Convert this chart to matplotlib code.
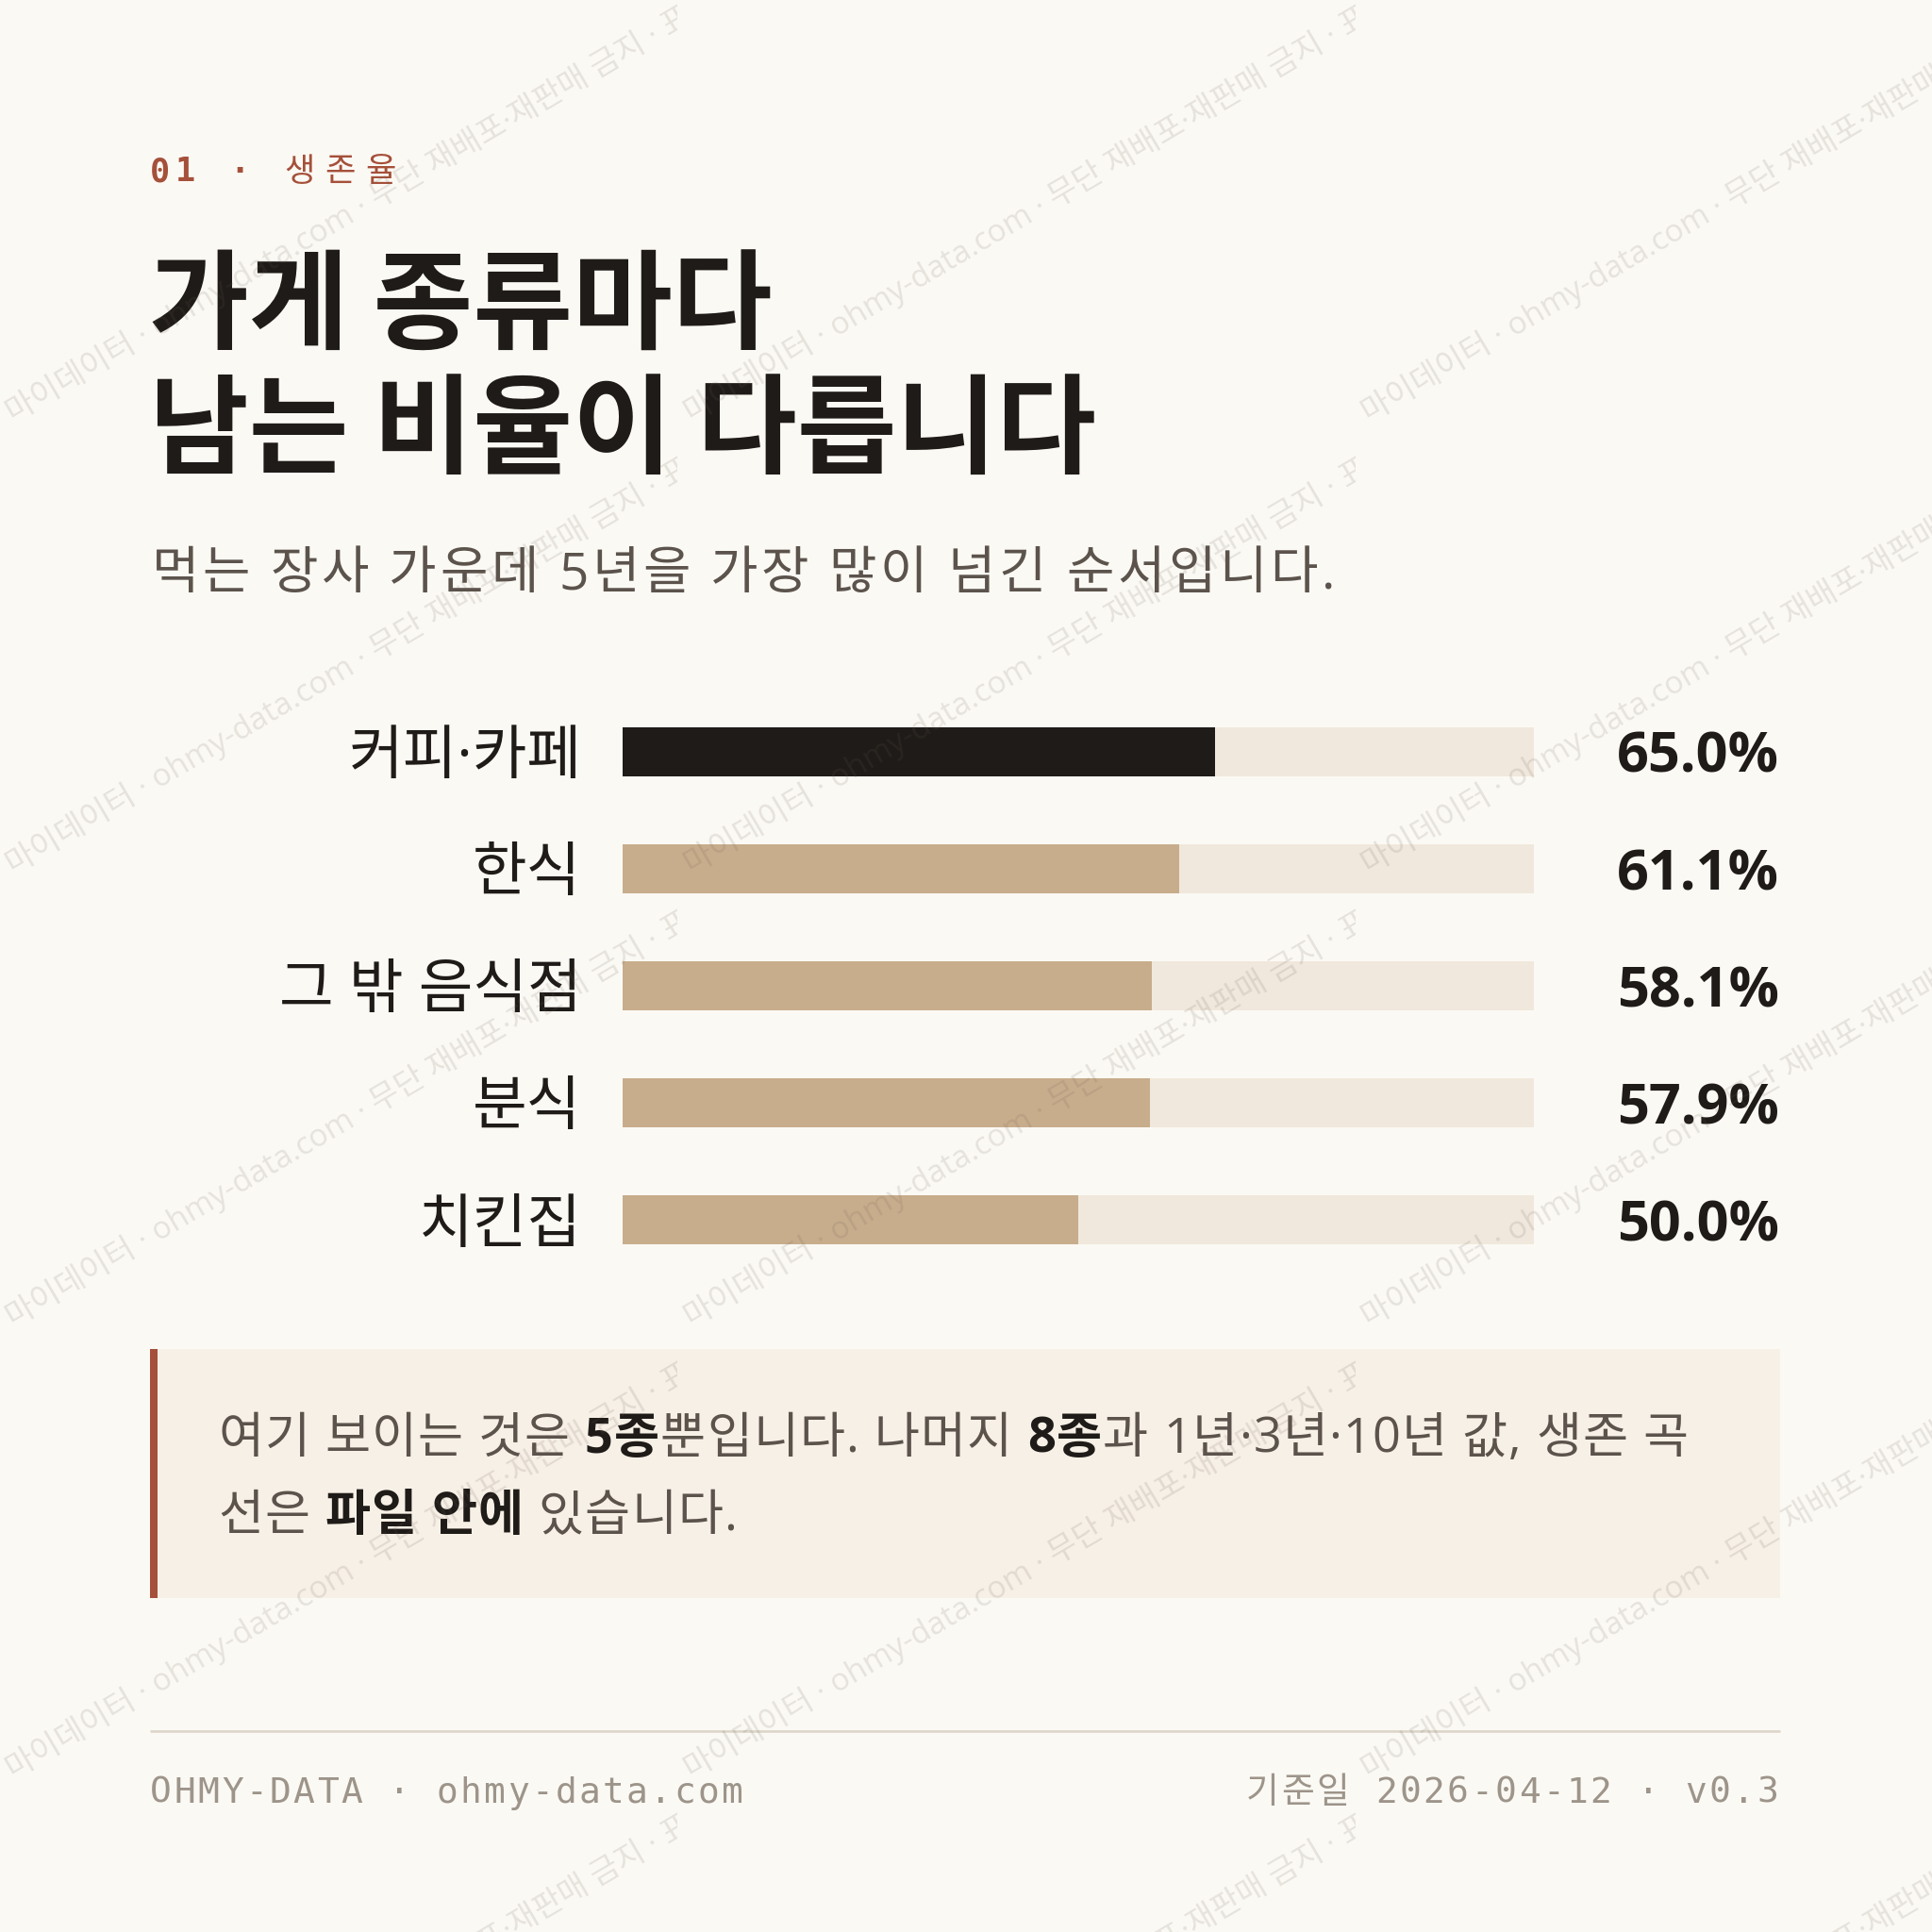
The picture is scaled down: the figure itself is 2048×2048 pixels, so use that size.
import matplotlib
matplotlib.use('Agg')
import matplotlib.pyplot as plt
import numpy as np
from matplotlib.patches import Rectangle
from matplotlib.transforms import Bbox, TransformedBbox, offset_copy

# ---- data ----
categories = ['커피·카페', '한식', '그 밖 음식점', '분식', '치킨집']
survival_5y = [65.0, 61.1, 58.1, 57.9, 50.0]
highlight = '커피·카페'

kicker_num = '01'
kicker_txt = '생존율'
title_lines = ['가게 종류마다', '남는 비율이 다릅니다']
subtitle = '먹는 장사 가운데 5년을 가장 많이 넘긴 순서입니다.'
# (text, bold, space after)
note_line1 = [('여기 보이는 것은', False, True), ('5종', True, False),
              ('뿐입니다. 나머지', False, True), ('8종', True, False),
              ('과 1년·3년·10년 값, 생존 곡', False, False)]
note_line2 = [('선은', False, True), ('파일 안에', True, True), ('있습니다.', False, False)]
footer_left = 'OHMY-DATA · ohmy-data.com'
footer_right = '기준일 2026-04-12 · v0.3'
watermark = '마이데이터 · ohmy-data.com · 무단 재배포·재판매 금지 · 표본 데이터'

# ---- style ----
BG = '#FBF9F4'
INK = '#1F1B18'
GREY = '#5B534C'
TAN = '#C8AD8C'
TRACK = '#F0E8DC'
RUST = '#A5503A'
NOTE_BG = '#F7F0E6'
FOOT = '#9D948A'
CJK = 'Noto Sans CJK KR'
SANS = ['Open Sans', CJK]
MONO = ['DejaVu Sans Mono', CJK]

W = 1568.0                       # layout units (reference preview px)
PT = 2048 / W * 72 / 100         # layout px -> points


def P(px):
    return px * PT


fig = plt.figure(figsize=(20.48, 20.48), dpi=100, facecolor=BG)
bg = fig.add_axes([0, 0, 1, 1])
bg.set_xlim(0, W)
bg.set_ylim(W, 0)
bg.axis('off')
renderer = fig.canvas.get_renderer()


def width_of(ax, s, **kw):
    t = ax.text(0, 0, s, **kw)
    bb = t.get_window_extent(renderer)
    t.remove()
    return bb.width / fig.dpi * 100 / (2048 / W)


def spaced(ax, x, y, s, track, measure_only=False, space=None, **kw):
    sp = width_of(ax, 'a a', **kw) - width_of(ax, 'aa', **kw)
    if space is not None:
        sp = space
    x0 = x
    for ch in s:
        if ch == ' ':
            x += sp + track
            continue
        w = width_of(ax, ch, **kw)
        if not measure_only:
            ax.text(x, y, ch, ha='left', va='baseline', **kw)
        x += w + track
    return x - track - x0


def rich(ax, x, y, parts, size, normal_color, bold_color, track=0.0):
    kw = dict(family=SANS, fontsize=size)
    sp = width_of(ax, '가 가', **kw) - width_of(ax, '가가', **kw)
    for s, bold, gap in parts:
        style = dict(kw, fontweight='bold' if bold else 'normal',
                     color=bold_color if bold else normal_color)
        w = spaced(ax, x, y, s, track, space=sp, **style)
        x += w + track + (sp + track if gap else 0)


# ---- header ----
spaced(bg, 122, 147, kicker_num, 4, family=MONO, fontweight='bold',
       fontsize=P(27), color=RUST)
spaced(bg, 186, 147, '·', 0, family=MONO, fontweight='bold',
       fontsize=P(27), color=RUST)
spaced(bg, 231, 147, kicker_txt, 8, family=CJK, fontsize=P(27), color=RUST)

for i, line in enumerate(title_lines):
    bg.text(121, 277 + 100 * i, line, family=CJK, fontweight='bold',
            fontsize=P(88), color=INK, ha='left', va='baseline')

spaced(bg, 123, 478, subtitle, 2.7, family=SANS, fontsize=P(42), color=GREY)

# ---- bars ----
n = len(categories)
left, right, top, pitch = 505, 1245, 610, 95
ax = fig.add_axes([left / W, 1 - (top + pitch * (n - 0.5)) / W,
                   (right - left) / W, pitch * n / W])
ax.set_facecolor('none')
ypos = np.arange(n)
ax.barh(ypos, [100] * n, height=40 / pitch, color=TRACK)
ax.barh(ypos, survival_5y, height=40 / pitch,
        color=[INK if c == highlight else TAN for c in categories])
ax.set_xlim(0, 100)
ax.set_ylim(n - 0.5, -0.5)
ax.axis('off')

px_per_unit = (right - left) / 100
lab_tr = offset_copy(ax.transData, fig=fig, y=-P(18), units='points')
val_tr = offset_copy(ax.transData, fig=fig, y=-P(17), units='points')
for i, (c, v) in enumerate(zip(categories, survival_5y)):
    ax.text(-33 / px_per_unit, i, c, ha='right', va='baseline', family=SANS,
            fontsize=P(48), color=INK, transform=lab_tr, clip_on=False)
    ax.text((1444 - left) / px_per_unit, i, f'{v:.1f}%', ha='right',
            va='baseline', family=SANS, fontweight='bold',
            fontsize=P(45.5), color=INK, transform=val_tr, clip_on=False)

# ---- note box ----
bg.add_patch(Rectangle((122, 1095), 1323, 202, facecolor=NOTE_BG, lw=0))
bg.add_patch(Rectangle((122, 1095), 6, 202, facecolor=RUST, lw=0))
rich(bg, 177, 1179, note_line1, P(40), GREY, INK, track=0.9)
rich(bg, 177, 1242, note_line2, P(40), GREY, INK, track=0.9)

# ---- footer ----
bg.plot([122, 1445], [1405, 1405], color='#DDD5CA', lw=P(2), solid_capstyle='butt')
fkw = dict(family=MONO, fontsize=P(29), color=FOOT)
spaced(bg, 122, 1463, footer_left, 1.9, **fkw)
wr = spaced(bg, 0, 1463, footer_right, 1.9, measure_only=True, **fkw)
spaced(bg, 1443 - wr, 1463, footer_right, 1.9, **fkw)

# ---- watermark overlay ----
wm = fig.add_axes([0, 0, 1, 1])
wm.set_xlim(0, W)
wm.set_ylim(W, 0)
wm.axis('off')
wm.set_facecolor('none')
tile_w, tile_h = 550, 367
for col in range(3):
    x0 = col * tile_w
    clip = TransformedBbox(Bbox([[x0, 0], [x0 + tile_w, W]]), wm.transData)
    for row in range(-1, 6):
        yb = 343 + row * tile_h
        t = wm.text(x0 + 11, yb, watermark, family=SANS, fontsize=P(25.5),
                    color='#6B5F55', alpha=0.15, rotation=30.5,
                    rotation_mode='anchor', ha='left', va='baseline')
        t.set_clip_on(True)
        t.set_clip_box(clip)

fig.savefig('out.png', dpi=100, facecolor=BG)
